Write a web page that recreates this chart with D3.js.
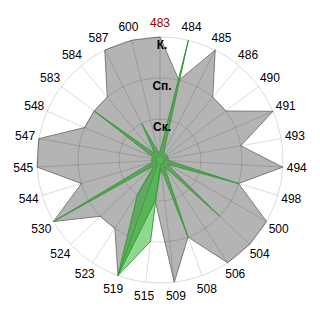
<!DOCTYPE html>
<meta charset="utf-8">
<style>
body { margin: 0; background: #fff; }
text.cat { font: 12px "Liberation Sans", Arial, sans-serif; fill: #000; }
text.lvl { font: bold 12px "Liberation Sans", Arial, sans-serif; fill: #000; }
</style>
<svg width="320" height="320"></svg>
<script src="https://d3js.org/d3.v7.min.js"></script>
<script>

// categories clockwise from the top
var categories = ["483","484","485","486","490","491","493","494","498","500","504","506","508","509",
                  "515","519","523","524","530","544","545","547","548","583","584","587","600"];
var levelLabels = ["Ск.","Сп.","К."];
var levels = [1, 2, 3];

// grey area series
var greyValues = [3,2,3,2,2,3,2,3,2,3,3,3,2,3,1,3,2,2,3,2,3,3,2,2,2,3,3];
// light green series
var lightValues = [0.1,0.1,0.1,0.1,0.1,0.1,0.1,0.1,0.1,0.1,0.1,0.1,0.1,0.1,2,3,0.1,0.1,0.1,0.1,0.1,0.1,0.1,0.1,0.1,0.1,0.1];
// dark green series
var darkValues = [0.2,3,0.2,0.2,0.2,0.2,0.2,0.2,2,0.2,2,0.2,2,0.2,1,3,1,0.2,3,0.2,0.2,0.2,0.2,2,0.2,1,0.2];

var svg = d3.select("svg"),
    cx = 160, cy = 160;

var g = svg.append("g").attr("transform", "translate(" + cx + "," + cy + ")");

var r = d3.scaleLinear().domain([0, 3]).range([0, 123]);
var angle = d3.scaleLinear().domain([0, categories.length]).range([0, 2 * Math.PI]);

var radial = d3.lineRadial()
    .angle(function(d, i) { return angle(i); })
    .radius(function(d) { return r(d); })
    .curve(d3.curveLinearClosed);

g.append("path")
    .attr("d", radial(greyValues))
    .attr("fill", "#b4b4b4")
    .attr("stroke", "#7c7c7c")
    .attr("stroke-width", 1);

// grid on top, semi transparent so it darkens over the grey area
var grid = g.append("g").attr("stroke", "rgba(0,0,0,0.14)").attr("fill", "none");
grid.selectAll("circle")
    .data(levels)
  .enter().append("circle")
    .attr("r", function(d) { return r(d); });
grid.selectAll("line")
    .data(categories)
  .enter().append("line")
    .attr("x1", 0).attr("y1", 0)
    .attr("x2", function(d, i) { return r(3) * Math.sin(angle(i)); })
    .attr("y2", function(d, i) { return -r(3) * Math.cos(angle(i)); });

g.append("path")
    .attr("d", radial(lightValues))
    .attr("fill", "#8fd98f")
    .attr("stroke", "#3fa03f")
    .attr("stroke-width", 1);

g.append("path")
    .attr("d", radial(darkValues))
    .attr("fill", "rgba(52,160,52,0.62)")
    .attr("stroke", "#3a9c3a")
    .attr("stroke-width", 1);

// category labels
g.selectAll("text.cat")
    .data(categories)
  .enter().append("text")
    .attr("class", "cat")
    .attr("text-anchor", "middle")
    .attr("dominant-baseline", "central")
    .attr("x", function(d, i) { return 137 * Math.sin(angle(i)); })
    .attr("y", function(d, i) { return -137 * Math.cos(angle(i)); })
    .style("fill", function(d, i) { return i == 0 ? "#990000" : "#000"; })
    .text(function(d) { return d; });

// level labels
g.selectAll("text.lvl")
    .data(levels)
  .enter().append("text")
    .attr("class", "lvl")
    .attr("text-anchor", "middle")
    .attr("dominant-baseline", "central")
    .attr("x", 2)
    .attr("y", function(d) { return -r(d) + 8; })
    .text(function(d, i) { return levelLabels[i]; });

</script>
